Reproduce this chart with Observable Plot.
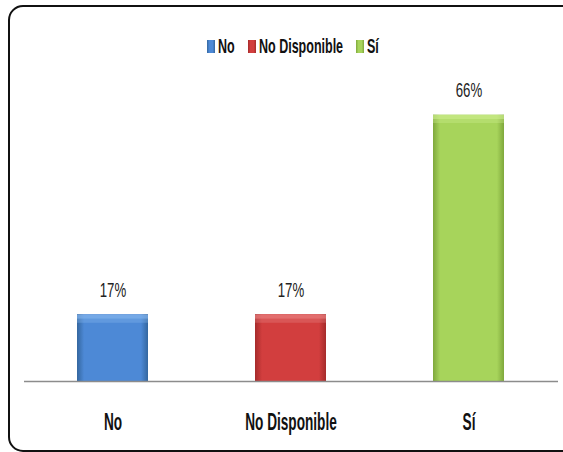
<!DOCTYPE html>
<html><head><meta charset="utf-8">
<script src="https://cdn.jsdelivr.net/npm/d3@7"></script>
<script src="https://cdn.jsdelivr.net/npm/@observablehq/plot@0.6"></script>
<style>
body{margin:0;background:#fff;overflow:hidden;}
#wrap{position:relative;width:563px;height:452px;overflow:hidden;font-family:"Liberation Sans",Arial,sans-serif;}
#frame{position:absolute;left:8px;top:5px;width:572px;height:447px;border:2.5px solid #111;border-radius:15px;box-sizing:border-box;}
#legend{position:absolute;top:36px;left:207px;height:20px;display:flex;align-items:center;}
#chart{position:absolute;left:0;top:0;}
.sw{width:8px;height:13px;margin-right:3px;box-sizing:border-box;}
.lt{display:inline-block;white-space:nowrap;font-weight:bold;font-size:20.5px;color:#111;transform-origin:left center;}
.item{display:flex;align-items:center;margin-right:13px;}
</style></head>
<body><div id="wrap"><div id="frame"></div><div id="legend"></div><div id="chart"></div></div>
<script>
const categories = ["No", "No Disponible", "Sí"];
const values = [16.7, 16.7, 66.6];
const labels = ["17%", "17%", "66%"];

const base = ["#4d89d6", "#d23e3e", "#a7d45b"];
const dark = ["#34679f", "#a52b2b", "#7fa83c"];
const light = ["#86b7ee", "#e98383", "#cdee8e"];

const data = categories.map((c, i) => ({cat: c, value: values[i], label: labels[i]}));

function defs() {
  const d = d3.create("svg:defs");
  categories.forEach((c, i) => {
    const g = d.append("linearGradient").attr("id", "g" + i)
      .attr("x1", 0).attr("x2", 1).attr("y1", 0).attr("y2", 0);
    g.append("stop").attr("offset", 0).attr("stop-color", dark[i]);
    g.append("stop").attr("offset", 0.1).attr("stop-color", base[i]);
    g.append("stop").attr("offset", 0.9).attr("stop-color", base[i]);
    g.append("stop").attr("offset", 1).attr("stop-color", dark[i]);
  });
  return d.node();
}

const chart = Plot.plot({
  width: 563,
  height: 452,
  marginLeft: 24,
  marginRight: 5,
  marginTop: 81,
  marginBottom: 71,
  style: {fontFamily: "'Liberation Sans', Arial, sans-serif", fontSize: "23.5px", fontWeight: "bold", color: "#111", background: "transparent"},
  x: {domain: categories, paddingInner: 0.6, paddingOuter: 0.3, tickSize: 0, tickPadding: 32, label: null},
  y: {domain: [0, 75], axis: null},
  color: {domain: categories, range: categories.map((c, i) => `url(#g${i})`)},
  marks: [
    defs,
    Plot.barY(data, {x: "cat", y: "value", fill: "cat"}),
    Plot.tickY(data, {x: "cat", y: "value", stroke: (d) => light[categories.indexOf(d.cat)], strokeWidth: 4, dy: 2, strokeOpacity: 0.7}),
    Plot.tickY(data, {x: "cat", y: "value", stroke: (d) => light[categories.indexOf(d.cat)], strokeWidth: 4, dy: 6, strokeOpacity: 0.35}),
    Plot.ruleY([0], {stroke: "#8c8c8c", strokeWidth: 1.5}),
    Plot.text(data, {x: "cat", y: "value", text: "label", dy: -18, lineAnchor: "bottom", fontSize: 21, fontWeight: "normal", fill: "#222"})
  ]
});

// condense text horizontally
chart.querySelectorAll("text").forEach(t => {
  const inLabels = t.closest('g[aria-label="text"]');
  const s = inLabels ? 0.63 : 0.58;
  const x = t.getAttribute("x");
  if (x != null) t.setAttribute("x", +x / s);
  const tr = t.getAttribute("transform") || "";
  t.setAttribute("transform", tr + ` scale(${s},1)`);
});
document.getElementById("chart").appendChild(chart);

// legend
const leg = document.getElementById("legend");
categories.forEach((c, i) => {
  const item = document.createElement("div");
  item.className = "item";
  const sw = document.createElement("div");
  sw.className = "sw";
  sw.style.background = `linear-gradient(to right, ${dark[i]}, ${base[i]} 30%, ${base[i]} 70%, ${dark[i]})`;
  const wrapT = document.createElement("div");
  const lt = document.createElement("span");
  lt.className = "lt";
  lt.textContent = c;
  wrapT.appendChild(lt);
  item.appendChild(sw);
  item.appendChild(wrapT);
  leg.appendChild(item);
  const w = lt.getBoundingClientRect().width;
  const s = 0.61;
  lt.style.transform = `scaleX(${s})`;
  wrapT.style.width = (w * s) + "px";
});
</script>
</body></html>
